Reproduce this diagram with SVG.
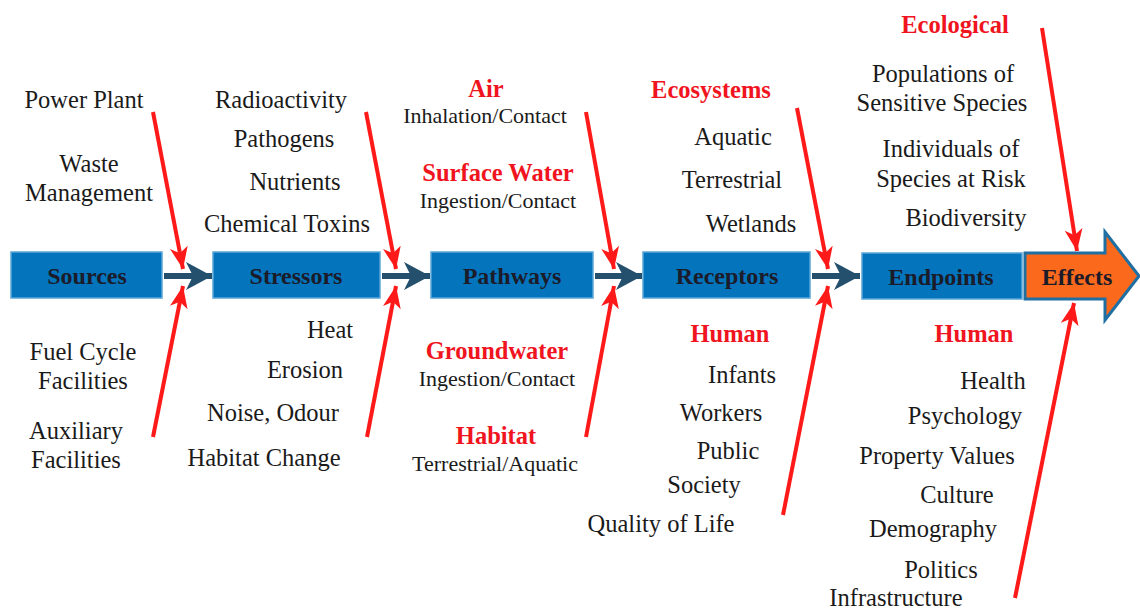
<svg xmlns="http://www.w3.org/2000/svg" width="1140" height="612" viewBox="0 0 1140 612">
<style>
.box{fill:#0474bd;stroke:#5aa7d8;stroke-width:1.5}
.bl{font-family:"Liberation Serif","Times New Roman",serif;font-weight:bold;font-size:24px;fill:#1b1b29;text-anchor:middle}
.t{font-family:"Liberation Serif","Times New Roman",serif;font-size:24.5px;fill:#1a1a1a;text-anchor:middle}
.s{font-family:"Liberation Serif","Times New Roman",serif;font-size:22px;fill:#1a1a1a;text-anchor:middle}
.r{font-family:"Liberation Serif","Times New Roman",serif;font-weight:bold;font-size:24.5px;fill:#f0141e;text-anchor:middle}
.dk{stroke:#24506e;stroke-width:6;fill:none;marker-end:url(#dh)}
.rd{stroke:#ff1a1a;stroke-width:4;fill:none;marker-end:url(#rh)}
</style>
<defs>
<marker id="dh" markerUnits="userSpaceOnUse" markerWidth="28" markerHeight="30" refX="26" refY="14" orient="auto">
<path d="M0,0 L26,14 L0,28 L7,14 z" fill="#24506e"/>
</marker>
<marker id="rh" markerUnits="userSpaceOnUse" markerWidth="24" markerHeight="20" refX="22" refY="9" orient="auto">
<path d="M0,0 L22,9 L0,18 L6,9 z" fill="#ff1a1a"/>
</marker>
</defs>
<g id="connectors">
<line class="dk" x1="164" y1="276" x2="212" y2="276"/>
<line class="dk" x1="382" y1="276" x2="430" y2="276"/>
<line class="dk" x1="595" y1="276" x2="642" y2="276"/>
<line class="dk" x1="812" y1="276" x2="860" y2="276"/>
<line class="rd" x1="153" y1="112" x2="183" y2="269"/>
<line class="rd" x1="153" y1="437" x2="183" y2="286"/>
<line class="rd" x1="366" y1="112" x2="396" y2="269"/>
<line class="rd" x1="367" y1="437" x2="396" y2="286"/>
<line class="rd" x1="586" y1="112" x2="614" y2="269"/>
<line class="rd" x1="586" y1="437" x2="614" y2="286"/>
<line class="rd" x1="797" y1="108" x2="828" y2="269"/>
<line class="rd" x1="783" y1="515" x2="828" y2="286"/>
<line class="rd" x1="1042" y1="28" x2="1077" y2="251"/>
<line class="rd" x1="1015" y1="598" x2="1074" y2="303"/>
</g>
<g id="sources">
<rect class="box" x="11" y="252" width="151" height="46"/>
<text class="bl" x="87" y="284">Sources</text>
</g>
<g id="stressors">
<rect class="box" x="213" y="252" width="167" height="46"/>
<text class="bl" x="296" y="284">Stressors</text>
</g>
<g id="pathways">
<rect class="box" x="431" y="252" width="162" height="46"/>
<text class="bl" x="512" y="284">Pathways</text>
</g>
<g id="receptors">
<rect class="box" x="643" y="252" width="167" height="46"/>
<text class="bl" x="727" y="284">Receptors</text>
</g>
<g id="endpoints">
<rect class="box" x="862" y="253" width="160" height="46"/>
<text class="bl" x="941" y="285">Endpoints</text>
</g>
<g id="effects">
<polygon points="1025,253 1105,253 1105,232 1139,276 1105,320 1105,299 1025,299" fill="#fb6a1c" stroke="#1f6fa3" stroke-width="3"/>
<text class="bl" x="1077" y="285">Effects</text>
</g>
<g id="source-items">
<text class="t" x="84" y="108">Power Plant</text>
<text class="t" x="89" y="172">Waste</text>
<text class="t" x="89" y="201">Management</text>
<text class="t" x="83" y="360">Fuel Cycle</text>
<text class="t" x="83" y="389">Facilities</text>
<text class="t" x="76" y="439">Auxiliary</text>
<text class="t" x="76" y="468">Facilities</text>
</g>
<g id="stressor-items">
<text class="t" x="281" y="108">Radioactivity</text>
<text class="t" x="284" y="147">Pathogens</text>
<text class="t" x="295" y="190">Nutrients</text>
<text class="t" x="287" y="232">Chemical Toxins</text>
<text class="t" x="330" y="338">Heat</text>
<text class="t" x="305" y="378">Erosion</text>
<text class="t" x="273" y="421">Noise, Odour</text>
<text class="t" x="264" y="466">Habitat Change</text>
</g>
<g id="pathway-items">
<text class="r" x="486" y="97">Air</text>
<text class="s" x="485" y="123">Inhalation/Contact</text>
<text class="r" x="498" y="181">Surface Water</text>
<text class="s" x="498" y="208">Ingestion/Contact</text>
<text class="r" x="497" y="359">Groundwater</text>
<text class="s" x="497" y="386">Ingestion/Contact</text>
<text class="r" x="496" y="444">Habitat</text>
<text class="s" x="495" y="471">Terrestrial/Aquatic</text>
</g>
<g id="receptor-items">
<text class="r" x="711" y="98">Ecosystems</text>
<text class="t" x="733" y="145">Aquatic</text>
<text class="t" x="732" y="188">Terrestrial</text>
<text class="t" x="751" y="232">Wetlands</text>
<text class="r" x="730" y="342">Human</text>
<text class="t" x="742" y="383">Infants</text>
<text class="t" x="721" y="421">Workers</text>
<text class="t" x="728" y="459">Public</text>
<text class="t" x="704" y="493">Society</text>
<text class="t" x="661" y="532">Quality of Life</text>
</g>
<g id="endpoint-items">
<text class="r" x="955" y="33">Ecological</text>
<text class="t" x="943" y="82">Populations of</text>
<text class="t" x="942" y="111">Sensitive Species</text>
<text class="t" x="951" y="157">Individuals of</text>
<text class="t" x="951" y="187">Species at Risk</text>
<text class="t" x="966" y="226">Biodiversity</text>
<text class="r" x="974" y="342">Human</text>
<text class="t" x="993" y="389">Health</text>
<text class="t" x="965" y="424">Psychology</text>
<text class="t" x="937" y="464">Property Values</text>
<text class="t" x="957" y="503">Culture</text>
<text class="t" x="933" y="537">Demography</text>
<text class="t" x="941" y="578">Politics</text>
<text class="t" x="896" y="606">Infrastructure</text>
</g>
</svg>
